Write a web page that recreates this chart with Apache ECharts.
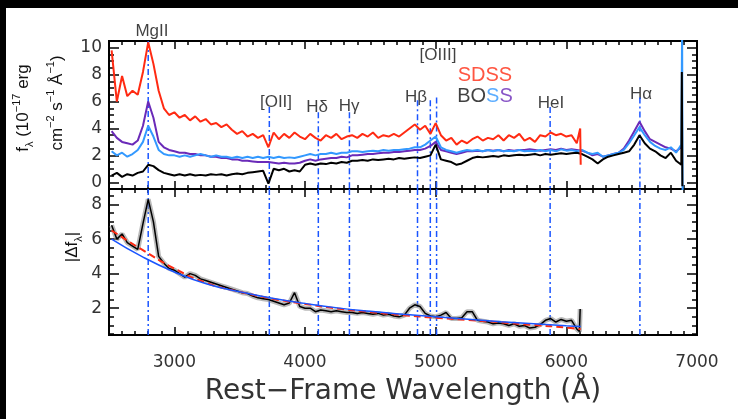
<!DOCTYPE html>
<html>
<head>
<meta charset="utf-8">
<script src="https://cdn.jsdelivr.net/npm/echarts@6/dist/echarts.min.js"></script>
<style>
  html, body { margin: 0; padding: 0; background: #000; }
  #chart { position: absolute; left: 6px; top: 8px; width: 732px; height: 411px; background: #fff; }
</style>
</head>
<body>
<div id="chart"></div>
<script>
// wavelength grid (Angstrom) shared by the spectra
var wave = [
  2520, 2560, 2600, 2640, 2680, 2720, 2760, 2800, 2840, 2880,
  2920, 2960, 3000, 3040, 3080, 3120, 3160, 3200, 3240, 3280,
  3320, 3360, 3400, 3440, 3480, 3520, 3560, 3600, 3640, 3680,
  3720, 3760, 3800, 3840, 3880, 3920, 3960, 4000, 4040, 4080,
  4120, 4160, 4200, 4240, 4280, 4320, 4360, 4400, 4440, 4480,
  4520, 4560, 4600, 4640, 4680, 4720, 4760, 4800, 4840, 4880,
  4920, 4960, 5000, 5040, 5080, 5120, 5160, 5200, 5240, 5280,
  5320, 5360, 5400, 5440, 5480, 5520, 5560, 5600, 5640, 5680,
  5720, 5760, 5800, 5840, 5880, 5920, 5960, 6000, 6040, 6080,
  6120, 6160, 6200, 6240, 6280, 6320, 6360, 6400, 6440, 6480,
  6520, 6560, 6600, 6640, 6680, 6720, 6760, 6800, 6840, 6880
];

// SDSS spectrum (red), ends near 6100
var sdss = [
  9.8, 6.0, 7.9, 6.4, 6.8, 6.5, 8.2, 10.4, 8.8, 6.8,
  5.5, 5.0, 5.2, 4.8, 5.0, 4.6, 4.9, 4.5, 4.7, 4.3,
  4.4, 4.1, 4.3, 3.9, 3.6, 3.8, 3.4, 3.6, 3.3, 3.5,
  2.6, 3.7, 3.2, 3.6, 3.3, 3.7, 3.4, 3.2, 3.6, 3.3,
  3.1, 3.5, 3.3, 3.6, 3.2, 3.4, 3.5, 3.3, 3.6, 3.4,
  3.7, 3.3, 3.5, 3.4, 3.6, 3.4, 3.7, 4.0, 4.3, 3.9,
  4.2, 3.6, 4.4, 3.5, 3.1, 3.3, 2.8, 3.1, 2.9, 3.2,
  3.4, 3.1, 3.3, 3.2, 3.5, 3.1, 3.5, 3.3, 3.6, 3.1,
  3.3, 3.0, 3.5, 3.4, 3.7, 3.5, 3.6, 3.4, 3.5, 2.9
];
var sdssTailWave = [6106, 6110];
var sdssTailFlux = [4.0, 1.3];

// BOSS spectra: purple, light blue, black
var bossPurple = [
  3.8, 3.3, 3.0, 2.9, 2.8, 3.1, 4.2, 6.0, 4.8, 3.0,
  2.6, 2.4, 2.3, 2.2, 2.2, 2.1, 2.1, 2.0, 2.0, 1.9,
  1.9, 1.8, 1.8, 1.7, 1.7, 1.6, 1.6, 1.55, 1.5, 1.5,
  1.5, 1.45, 1.4, 1.45, 1.4, 1.4, 1.45, 1.6, 1.7, 1.6,
  1.7, 1.75, 1.8, 1.8, 1.9, 1.85, 2.0, 2.0, 2.05, 2.1,
  2.1, 2.15, 2.2, 2.2, 2.25, 2.25, 2.3, 2.35, 2.4, 2.4,
  2.5, 2.7, 3.0, 2.4, 2.3, 2.2, 2.1, 2.2, 2.3, 2.3,
  2.35, 2.3, 2.4, 2.35, 2.4, 2.3, 2.4, 2.35, 2.4, 2.4,
  2.45, 2.4, 2.35, 2.4, 2.45, 2.4, 2.5, 2.4, 2.45, 2.4,
  2.35, 2.2, 2.0, 2.1, 1.9, 2.0, 2.1, 2.2, 2.5, 3.1,
  3.8, 4.5, 3.8, 3.2, 3.0, 2.8, 2.6, 2.5, 2.3, 2.6
];
var bossBlue = [
  2.3, 2.0, 2.2, 1.9, 2.1, 2.4, 3.0, 4.2, 3.4, 2.4,
  2.1, 2.0, 2.0, 1.9, 2.0, 1.9, 2.0, 2.1, 2.0, 1.9,
  2.0, 1.9, 1.9, 1.8, 1.9, 1.8, 1.9, 1.8, 1.9, 1.8,
  1.9, 1.8, 1.9, 1.8, 1.85, 1.8, 1.9, 2.0, 2.1, 2.0,
  2.1, 2.1, 2.2, 2.1, 2.2, 2.2, 2.3, 2.3, 2.25, 2.3,
  2.35, 2.3, 2.4, 2.35, 2.4, 2.4, 2.45, 2.5, 2.6, 2.6,
  2.8, 3.1, 3.4, 2.6, 2.4, 2.3, 2.2, 2.3, 2.4, 2.35,
  2.4, 2.3, 2.4, 2.3, 2.4, 2.3, 2.35, 2.3, 2.4, 2.3,
  2.35, 2.3, 2.4, 2.3, 2.4, 2.3, 2.45, 2.35, 2.4, 2.3,
  2.4, 2.2, 2.1, 2.2, 1.9, 2.0, 2.1, 2.2, 2.4, 2.9,
  3.5, 4.1, 3.5, 3.0, 2.7, 2.5, 2.4, 2.6, 2.2, 2.8
];
var blueTailWave = [6886, 6890];
var blueTailFlux = [11.5, -1.0];
var bossBlack = [
  0.5, 0.7, 0.4, 0.6, 0.5, 0.7, 0.8, 1.3, 1.2, 0.9,
  0.7, 0.6, 0.5, 0.6, 0.5, 0.6, 0.5, 0.55, 0.5, 0.6,
  0.55, 0.6, 0.5, 0.6, 0.65, 0.6, 0.7, 0.75, 0.8, 0.85,
  -0.1, 1.0, 0.9, 1.0, 0.8, 0.9, 0.8, 1.3, 1.4, 1.3,
  1.4, 1.35, 1.45, 1.4, 1.5, 1.45, 1.6, 1.6, 1.65, 1.6,
  1.7, 1.65, 1.7, 1.75, 1.7, 1.8, 1.75, 1.8, 1.85, 1.8,
  1.9, 2.0, 2.8, 1.7, 1.6, 1.5, 1.3, 1.4, 1.6, 1.8,
  1.9, 1.85, 1.9, 1.95, 1.9, 2.0, 1.95, 2.0, 2.05, 2.0,
  2.05, 2.1, 2.0, 2.1, 2.05, 2.1, 2.15, 2.1, 2.15, 2.2,
  2.1, 1.9, 1.7, 1.4, 1.7, 1.9, 2.0, 2.1, 2.2, 2.3,
  2.8, 3.5, 2.9, 2.5, 2.3, 2.0, 1.8, 2.2, 1.6, 1.3
];
var blackTailWave = [6884, 6888];
var blackTailFlux = [8.2, -0.3];

// |delta f| (lower panel), ends near 6100
var diffFlux = [
  6.8, 6.0, 6.3, 5.8, 5.6, 5.4, 6.9, 8.3, 7.0, 5.0,
  4.6, 4.3, 4.2, 4.0, 3.8, 4.0, 3.9, 3.7, 3.6, 3.5,
  3.4, 3.3, 3.2, 3.1, 3.0, 2.9, 2.85, 2.7, 2.6, 2.55,
  2.5, 2.4, 2.3, 2.2, 2.3, 2.9, 2.1, 2.0, 2.0, 1.8,
  1.9, 1.85, 1.8, 1.85, 1.8, 1.75, 1.75, 1.7, 1.75, 1.7,
  1.65, 1.7, 1.6, 1.65, 1.55, 1.5, 1.6, 2.0, 2.2, 2.1,
  1.7, 1.55, 1.5, 1.6, 1.75, 1.4, 1.4, 1.45, 1.8, 1.8,
  1.3, 1.25, 1.2, 1.1, 1.15, 1.1, 1.0, 1.1, 0.95, 1.0,
  0.85, 0.9, 1.05, 1.3, 1.4, 1.2, 1.35, 1.25, 1.3, 0.8
];
var diffTailWave = [6100, 6106];
var diffTailFlux = [0.65, 1.95];

// model fits in the lower panel
var fitWave = [2520, 2750, 3000, 3250, 3500, 3750, 4000, 4250, 4500, 4750, 5000, 5250, 5500, 5750, 6000, 6110];
var fitRed  = [6.5, 5.4, 4.3, 3.45, 2.95, 2.55, 2.25, 1.98, 1.78, 1.6, 1.45, 1.32, 1.18, 1.03, 0.88, 0.78];
var fitBlue = [6.0, 5.0, 4.1, 3.4, 2.95, 2.58, 2.28, 2.02, 1.82, 1.65, 1.5, 1.36, 1.22, 1.1, 0.98, 0.94];

// emission lines and where their markers start in the top panel
var lineWave = [2800, 3727, 4102, 4340, 4861, 4959, 5007, 5876, 6563];
var lineTop  = [10.5, 5.6, 5.2, 5.2, 6.1, 6.1, 6.3, 5.6, 6.3];

// labels in the top panel (data coords)
var labelText = ['MgII', '[OII]', 'H\u03b4', 'H\u03b3', 'H\u03b2', '[OIII]', '{r|SDSS}', '{k|BO}{c|S}{p|S}', 'HeI', 'H\u03b1'];
var labelWave = [2829, 3778, 4092, 4337, 4849, 5018, 5377, 5377, 5883, 6571];
var labelFlux = [11.24, 5.97, 5.59, 5.67, 6.34, 9.46, 7.97, 6.41, 5.89, 6.56];

// ticks
var xMajor = [3000, 4000, 5000, 6000, 7000];
var fluxMajor = [0, 2, 4, 6, 8, 10];
var diffMajor = [2, 4, 6, 8];
var xMinor = [], fluxMinor = [], diffMinor = [];
for (var t = 2600; t < 7000; t += 100) if (t % 1000) xMinor.push(t);
for (var t = -0.5; t <= 10.5; t += 0.5) if (t % 2) fluxMinor.push(t);
for (var t = 0.5; t <= 8.5; t += 0.5) if (t % 2) diffMinor.push(t);

var RED = '#ff2a12', PURPLE = '#6a2ab8', LBLUE = '#3399ff', LINEBLUE = '#1a55ff';

function pairs(w, v) {
  var out = [];
  for (var i = 0; i < v.length; i++) out.push([w[i], v[i]]);
  return out;
}

var tickFont = { fontFamily: 'DejaVu Sans', fontSize: 17, color: '#333' };

function xAx(grid, pos, ticks, len, labels) {
  return {
    type: 'value', gridIndex: grid, position: pos, min: 2500, max: 7000,
    axisLine: { show: false, onZero: false }, splitLine: { show: false },
    axisTick: { show: true, inside: true, length: len, customValues: ticks, lineStyle: { color: '#000', width: 1.5 } },
    axisLabel: labels ? Object.assign({
      show: true, customValues: xMajor, margin: 19,
      formatter: function (v) { return String(v); }
    }, tickFont) : { show: false }
  };
}
function yAx(grid, pos, min, max, ticks, len, labels) {
  return {
    type: 'value', gridIndex: grid, position: pos, min: min, max: max,
    axisLine: { show: false, onZero: false }, splitLine: { show: false },
    axisTick: { show: true, inside: true, length: len, customValues: ticks, lineStyle: { color: '#000', width: 1.5 } },
    axisLabel: labels ? Object.assign({ show: true, customValues: labels, margin: 7 }, tickFont) : { show: false }
  };
}

var xAxes = [
  xAx(0, 'bottom', xMajor, 8, false), xAx(0, 'bottom', xMinor, 4, false),
  xAx(0, 'top', xMajor, 8, false), xAx(0, 'top', xMinor, 4, false),
  xAx(1, 'bottom', xMajor, 8, true), xAx(1, 'bottom', xMinor, 4, false),
  xAx(1, 'top', xMajor, 8, false), xAx(1, 'top', xMinor, 4, false)
];
xAxes[4].name = 'Rest\u2212Frame Wavelength (\u00c5)';
xAxes[4].nameLocation = 'middle';
xAxes[4].nameGap = 43;
xAxes[4].nameTextStyle = { fontFamily: 'DejaVu Sans', fontSize: 28, color: '#333' };

var yAxes = [
  yAx(0, 'left', -0.5, 10.5, fluxMajor, 10, fluxMajor), yAx(0, 'left', -0.5, 10.5, fluxMinor, 5, null),
  yAx(0, 'right', -0.5, 10.5, fluxMajor, 10, null), yAx(0, 'right', -0.5, 10.5, fluxMinor, 5, null),
  yAx(1, 'left', 0.45, 8.9, diffMajor, 10, diffMajor), yAx(1, 'left', 0.45, 8.9, diffMinor, 5, null),
  yAx(1, 'right', 0.45, 8.9, diffMajor, 10, null), yAx(1, 'right', 0.45, 8.9, diffMinor, 5, null)
];

var upperLines = [], lowerLines = [];
lineWave.forEach(function (w, i) {
  upperLines.push([w, lineTop[i]], [w, -0.5], [w, '-']);
  lowerLines.push([w, 8.9], [w, 0.45], [w, '-']);
});

function spec(name, data, color, width, xi, yi, extra) {
  return Object.assign({
    type: 'line', name: name, data: data, xAxisIndex: xi, yAxisIndex: yi,
    showSymbol: false, symbol: 'none', silent: true,
    lineStyle: { color: color, width: width }
  }, extra || {});
}

var labelData = labelText.map(function (s, i) {
  return { name: s, value: [labelWave[i], labelFlux[i]] };
});

var chart = echarts.init(document.getElementById('chart'));
chart.setOption({
  animation: false,
  backgroundColor: '#fff',
  grid: [
    { left: 103, top: 33, width: 588, height: 148, show: true, borderColor: '#000', borderWidth: 2, backgroundColor: 'transparent' },
    { left: 103, top: 181, width: 588, height: 146, show: true, borderColor: '#000', borderWidth: 2, backgroundColor: 'transparent' }
  ],
  xAxis: xAxes,
  yAxis: yAxes,
  graphic: [
    {
      type: 'text', x: 17, y: 100, rotation: Math.PI / 2,
      style: {
        text: 'f{s|\u03bb} (10{u|\u221217} erg', align: 'center', verticalAlign: 'middle',
        fontFamily: 'Liberation Sans', fontSize: 17, lineHeight: 24, fill: '#111',
        rich: { s: { fontSize: 11, verticalAlign: 'bottom' }, u: { fontSize: 11, verticalAlign: 'top' } }
      }
    },
    {
      type: 'text', x: 51, y: 95, rotation: Math.PI / 2,
      style: {
        text: 'cm{u|\u22122} s{u|\u22121} \u00c5{u|\u22121})', align: 'center', verticalAlign: 'middle',
        fontFamily: 'Liberation Sans', fontSize: 17, lineHeight: 24, fill: '#111',
        rich: { u: { fontSize: 11, verticalAlign: 'top' } }
      }
    },
    {
      type: 'text', x: 66, y: 239, rotation: Math.PI / 2,
      style: {
        text: '|\u0394f{s|\u03bb}|', align: 'center', verticalAlign: 'middle',
        fontFamily: 'Liberation Sans', fontSize: 17, lineHeight: 24, fill: '#111',
        rich: { s: { fontSize: 11, verticalAlign: 'bottom' } }
      }
    }
  ],
  series: [
    spec('lines', upperLines, LINEBLUE, 1.5, 0, 0, { lineStyle: { color: LINEBLUE, width: 1.5, type: [6, 3, 2, 3] } }),
    spec('BOSS purple', pairs(wave, bossPurple), PURPLE, 2, 0, 0),
    spec('BOSS blue', pairs(wave, bossBlue).concat(pairs(blueTailWave, blueTailFlux)), LBLUE, 2, 0, 0),
    spec('BOSS black', pairs(wave, bossBlack).concat(pairs(blackTailWave, blackTailFlux)), '#000', 2, 0, 0),
    spec('SDSS', pairs(wave, sdss).concat(pairs(sdssTailWave, sdssTailFlux)), RED, 2, 0, 0),
    spec('lines', lowerLines, LINEBLUE, 1.5, 4, 4, { lineStyle: { color: LINEBLUE, width: 1.5, type: [6, 3, 2, 3] } }),
    spec('diff err', pairs(wave, diffFlux).concat(pairs(diffTailWave, diffTailFlux)), 'rgba(140,140,140,0.6)', 5, 4, 4),
    spec('diff', pairs(wave, diffFlux).concat(pairs(diffTailWave, diffTailFlux)), '#000', 1.5, 4, 4),
    spec('fit red', pairs(fitWave, fitRed), RED, 2, 4, 4, { smooth: true, lineStyle: { color: RED, width: 2, type: [7, 4] } }),
    spec('fit blue', pairs(fitWave, fitBlue), LINEBLUE, 1.5, 4, 4, { smooth: true }),
    {
      type: 'scatter', name: 'labels', xAxisIndex: 0, yAxisIndex: 0, clip: false, silent: true,
      symbolSize: 1, itemStyle: { color: 'rgba(0,0,0,0)' },
      data: labelData,
      label: {
        show: true, position: 'inside', formatter: '{b}',
        fontFamily: 'Liberation Sans', fontSize: 17, color: '#111',
        rich: {
          r: { fontSize: 20, color: RED, fontFamily: 'Liberation Sans' },
          k: { fontSize: 20, color: '#111', fontFamily: 'Liberation Sans' },
          c: { fontSize: 20, color: LBLUE, fontFamily: 'Liberation Sans' },
          p: { fontSize: 20, color: PURPLE, fontFamily: 'Liberation Sans' }
        }
      }
    }
  ]
});
</script>
</body>
</html>
